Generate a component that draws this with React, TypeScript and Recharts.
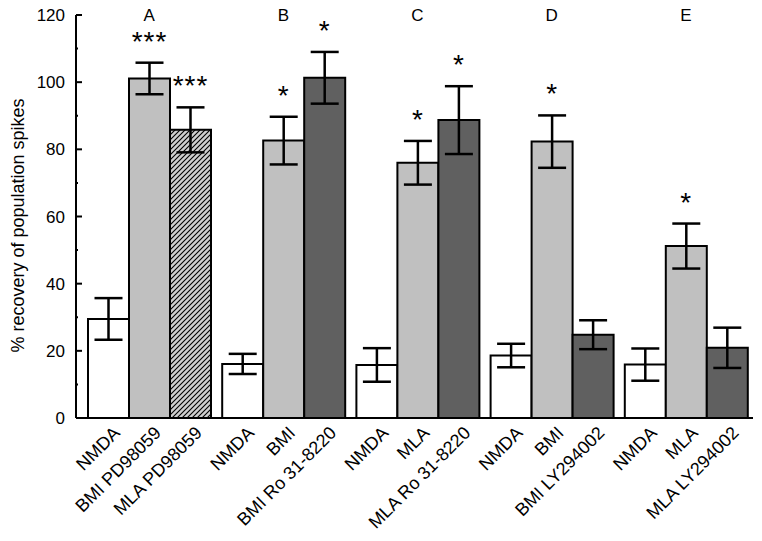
import React from 'react';
import { BarChart, Bar, XAxis, YAxis, ErrorBar, LabelList, Cell } from 'recharts';

const groups = ['A', 'B', 'C', 'D', 'E'];
const firstLabels = ['NMDA', 'NMDA', 'NMDA', 'NMDA', 'NMDA'];
const secondLabels = ['BMI PD98059', 'BMI', 'MLA', 'BMI', 'MLA'];
const thirdLabels = ['MLA PD98059', 'BMI Ro 31-8220', 'MLA Ro 31-8220', 'BMI LY294002', 'MLA LY294002'];

const firstMeans = [29.5, 16.1, 15.8, 18.6, 15.9];
const firstErrors = [6.2, 3.0, 5.0, 3.5, 4.8];
const secondMeans = [101.1, 82.6, 76.0, 82.3, 51.2];
const secondErrors = [4.7, 7.1, 6.5, 7.8, 6.7];
const thirdMeans = [85.8, 101.3, 88.7, 24.8, 20.9];
const thirdErrors = [6.7, 7.7, 10.1, 4.3, 6.0];

const secondSig = ['***', '*', '*', '*', '*'];
const thirdSig = ['***', '*', '*', '', ''];

const yTicks = [0, 10, 20, 30, 40, 50, 60, 70, 80, 90, 100, 110, 120];

const data = groups.map((g, i) => ({
  group: g,
  m1: firstMeans[i],
  e1: firstErrors[i],
  m2: secondMeans[i],
  e2: secondErrors[i],
  s2: secondSig[i],
  m3: thirdMeans[i],
  e3: thirdErrors[i],
  s3: thirdSig[i],
}));

const FONT = '"Liberation Sans", Arial, sans-serif';
const BAR = 41;
const TOP = 15;

// three rotated bar labels under each group, plus the group letter at the top
const XTick = (props: any) => {
  const { x, y, payload } = props;
  const i = payload.index;
  const labels = [firstLabels[i], secondLabels[i], thirdLabels[i]];
  return (
    <g>
      <text x={x} y={TOP + 6} textAnchor="middle" fontSize={17} fontFamily={FONT} fill="#000">
        {payload.value}
      </text>
      {labels.map((t, k) => {
        const ax = x + (k - 1) * BAR + 13;
        const ay = y + 16;
        return (
          <text
            key={k}
            x={ax}
            y={ay}
            textAnchor="end"
            transform={`rotate(-45 ${ax} ${ay})`}
            fontSize={18}
            fontFamily={FONT}
            fill="#000"
          >
            {t}
          </text>
        );
      })}
    </g>
  );
};

const YTick = (props: any) => {
  const { x, y, payload } = props;
  const major = payload.value % 20 === 0;
  return (
    <g>
      <line x1={x} x2={x + (major ? 6 : 2)} y1={y} y2={y} stroke="#000" strokeWidth={2} />
      {major && (
        <text x={x - 11} y={y + 6} textAnchor="end" fontSize={17} fontFamily={FONT} fill="#000">
          {payload.value}
        </text>
      )}
    </g>
  );
};

const makeSig = (means: number[], errs: number[]) => (props: any) => {
  const { index, value } = props;
  if (!value) return null;
  const vb = props.viewBox || props;
  const x = vb.x ?? props.x;
  const y = vb.y ?? props.y;
  const w = vb.width ?? props.width;
  const h = vb.height ?? props.height;
  const pxPer = h / means[index];
  const errTop = y - errs[index] * pxPer;
  return (
    <text
      x={x + w / 2}
      y={errTop - 12}
      textAnchor="middle"
      fontSize={28}
      letterSpacing={1}
      fontFamily={FONT}
      fill="#000"
    >
      {value}
    </text>
  );
};

const YLabel = (props: any) => {
  const vb = props.viewBox;
  const cx = vb.x + 18;
  const cy = vb.y + vb.height / 2 + 9;
  return (
    <text
      x={cx}
      y={cy}
      textAnchor="middle"
      dominantBaseline="central"
      transform={`rotate(-90 ${cx} ${cy})`}
      fontSize={18}
      fontFamily={FONT}
      fill="#000"
    >
      % recovery of population spikes
    </text>
  );
};

export default function App() {
  return (
    <div style={{ position: 'absolute', left: 0, top: 0, background: '#fff' }}>
      <BarChart
        width={762}
        height={541}
        data={data}
        margin={{ top: TOP, right: 9, left: 0, bottom: 0 }}
        barGap={0}
        barSize={BAR}
      >
        <defs>
          <pattern id="hatch" patternUnits="userSpaceOnUse" width={5} height={5}>
            <rect width={5} height={5} fill="#cfcfcf" />
            <path d="M-1,1 l2,-2 M0,5 l5,-5 M4,6 l2,-2" stroke="#000" strokeWidth={1.1} />
          </pattern>
        </defs>
        <XAxis
          dataKey="group"
          height={123}
          padding={{ left: 6, right: 0 }}
          axisLine={{ stroke: '#000', strokeWidth: 2 }}
          tickLine={false}
          tickSize={0}
          tickMargin={0}
          interval={0}
          tick={<XTick />}
        />
        <YAxis
          width={76}
          domain={[0, 120]}
          ticks={yTicks}
          interval={0}
          axisLine={{ stroke: '#000', strokeWidth: 2 }}
          tickLine={false}
          tickSize={0}
          tickMargin={0}
          tick={<YTick />}
          label={{ content: YLabel }}
        />
        <Bar dataKey="m1" fill="#ffffff" stroke="#000" strokeWidth={2} isAnimationActive={false}>
          <ErrorBar dataKey="e1" width={14} stroke="#000" strokeWidth={2.5} direction="y" />
        </Bar>
        <Bar dataKey="m2" fill="#c0c0c0" stroke="#000" strokeWidth={2} isAnimationActive={false}>
          <ErrorBar dataKey="e2" width={14} stroke="#000" strokeWidth={2.5} direction="y" />
          <LabelList dataKey="s2" content={makeSig(secondMeans, secondErrors)} />
        </Bar>
        <Bar dataKey="m3" fill="#606060" stroke="#000" strokeWidth={2} isAnimationActive={false}>
          {data.map((d, i) => (
            <Cell key={d.group} fill={i === 0 ? 'url(#hatch)' : '#606060'} />
          ))}
          <ErrorBar dataKey="e3" width={14} stroke="#000" strokeWidth={2.5} direction="y" />
          <LabelList dataKey="s3" content={makeSig(thirdMeans, thirdErrors)} />
        </Bar>
      </BarChart>
    </div>
  );
}
